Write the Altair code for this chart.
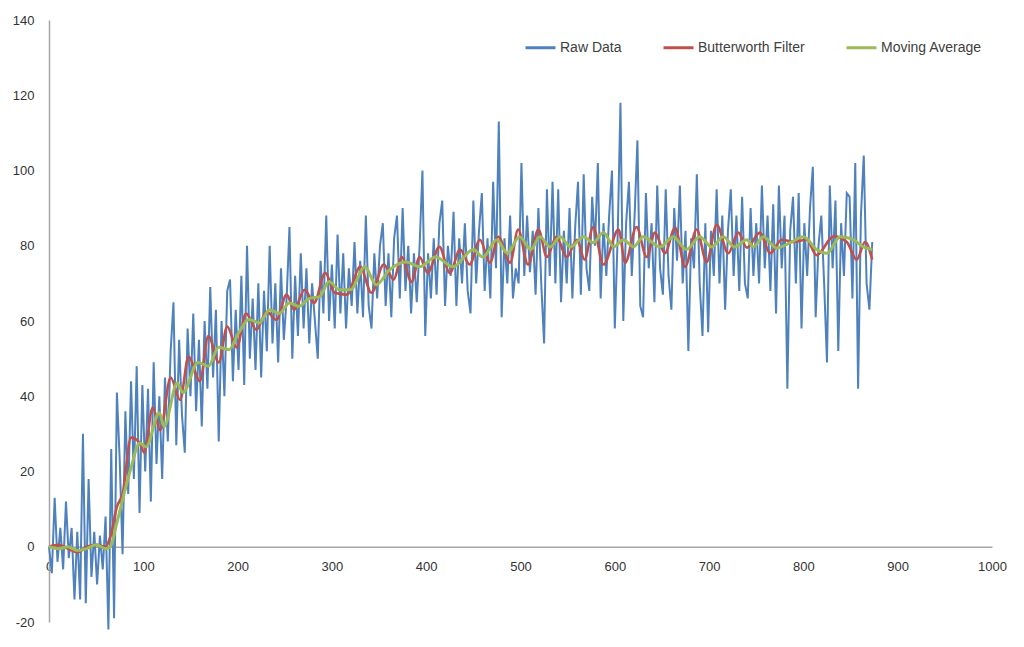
import altair as alt
import pandas as pd

# ---------------- data ----------------
raw_step = 3
raw_values = [
    0, -7, 13, -4, 5, -6, 12, -3, 5, -14,
    4, -14, 30, -15, 18, -8, 4, -10, 3, -6,
    8, -22, 26, -19, 41, 23, -2, 36, 14, 44,
    18, 48, 9, 43, 20, 42, 12, 49, 22, 40,
    18, 45, 28, 52, 65, 27, 55, 35, 25, 58,
    40, 62, 36, 55, 32, 60, 42, 69, 45, 63,
    28, 60, 40, 68, 71, 44, 63, 47, 72, 43,
    80, 50, 66, 47, 70, 45, 68, 52, 80, 54,
    70, 49, 74, 55, 66, 85, 50, 72, 56, 78,
    58, 74, 54, 70, 60, 50, 76, 62, 88, 60,
    75, 58, 83, 62, 78, 58, 74, 64, 81, 62,
    76, 61, 88, 64, 58, 78, 66, 80, 86, 64,
    78, 61, 82, 88, 66, 90, 68, 80, 62, 78,
    65, 80, 100, 56, 78, 66, 82, 67, 86, 92,
    64, 80, 72, 89, 64, 82, 70, 86, 68, 62,
    92, 70, 84, 94, 68, 82, 66, 97, 74, 113,
    61, 82, 70, 88, 66, 74, 70, 102, 72, 88,
    73, 84, 67, 90, 70, 54, 95, 72, 97, 70,
    95, 65, 84, 70, 90, 66, 85, 97, 67, 99,
    74, 68, 93, 80, 102, 66, 86, 72, 88, 100,
    58, 82, 118, 60, 86, 97, 72, 88, 108, 64,
    61, 94, 74, 86, 65, 96, 74, 67, 95, 72,
    63, 90, 76, 96, 70, 84, 52, 82, 74, 99,
    70, 56, 86, 57, 84, 72, 95, 70, 88, 63,
    84, 95, 72, 88, 68, 93, 70, 66, 90, 72,
    86, 70, 96, 74, 88, 68, 91, 62, 96, 74,
    88, 42, 84, 93, 70, 94, 58, 86, 72, 90,
    101, 61, 80, 88, 70, 49, 96, 74, 92, 52,
    86, 72, 94, 93, 66, 102, 42, 88, 104, 70,
    63, 81,
]
raw_x = [i * raw_step for i in range(len(raw_values))]

butter_x = [0, 10, 20, 30, 40, 50, 60, 65, 72, 78, 87, 96, 101, 110, 118, 129,
            139, 148, 160, 169, 180, 189, 199, 209, 220, 231, 241, 252, 260, 271,
            281, 293, 303, 316, 330, 342, 355, 365.5, 374, 384.5, 393, 401.6, 414,
            425, 436, 446, 457, 467.6, 476.5, 489, 497.5, 508, 519, 528, 538, 549,
            560, 568, 577, 588, 604, 611, 623, 633.8, 642.6, 653, 664, 674.5, 686.8,
            697.4, 708, 720.4, 731, 740, 754, 764.6, 777, 789.4, 803.5, 814, 832,
            846, 856.5, 865.4, 873]
butter_y = [0, 0.5, -0.5, -1.5, 0, 0.5, 0, 2.6, 10.6, 14, 29, 27.7, 25, 37, 31, 45,
            39, 50.5, 44, 56, 49, 58.5, 53, 62, 57.7, 62.5, 60.3, 67, 63, 68.3,
            64.8, 72.8, 67.5, 67, 74.4, 67.5, 75, 71, 77, 70.4, 77, 72.8, 79.7,
            72.8, 79, 75, 81.6, 75.5, 82.4, 75.5, 84.3, 75, 84.3, 77, 82.4, 77,
            81.6, 76.3, 85, 75, 84.3, 75.5, 85, 77, 83.5, 78, 84.8, 74.4, 84.3,
            75.7, 85.6, 78, 83.5, 79.5, 83.5, 78, 81.6, 81, 81.6, 77.5, 82.5,
            81, 76.3, 81, 76.3]

ma_x = [0, 10, 20, 30, 40, 50, 60, 65, 72, 78, 87, 96, 103, 117, 122, 136, 142,
        158, 169, 180, 191, 201, 212, 223, 234, 244, 255, 265, 276, 287, 297, 308,
        319.5, 335, 347, 361, 378.8, 393, 410, 428.5, 450, 460, 475, 486, 499, 511,
        520.6, 531.5, 542, 553, 567, 577, 588, 599, 609, 620, 630, 648, 662, 676,
        690, 702.7, 715, 727, 740, 747, 757.5, 771.7, 786, 800, 814, 825, 839, 853,
        863.6, 873]
ma_y = [0, -0.5, 0, -1, -0.5, 0.5, -0.5, 0, 6.4, 12.5, 21, 27.6, 26.6, 35.6, 32,
        43.5, 41, 49, 48, 53, 52.4, 56.8, 60.4, 59.5, 63, 62, 64.8, 63.9, 66, 66.5,
        70.5, 68.3, 68.3, 74.4, 69.6, 73.6, 75.7, 74.4, 77, 74.4, 79, 77, 81.6, 78,
        82.4, 79, 82.4, 79.7, 82.4, 79.7, 82.4, 80.8, 83.5, 79.7, 81.6, 79.7, 82.4,
        79.7, 82.4, 79, 82.4, 79.7, 82.4, 79.7, 81.6, 79.7, 82.4, 79.4, 80.8, 82.4,
        79, 78, 82.4, 81.6, 79.7, 79]

series_names = ["Raw Data", "Butterworth Filter", "Moving Average"]
series_colors = ["#4F81BD", "#C0504D", "#9BBB59"]

x_ticks = list(range(0, 1001, 100))
y_ticks = list(range(-20, 141, 20))

# ---------------- tables ----------------
raw_df = pd.DataFrame({"x": raw_x, "y": raw_values, "series": series_names[0]})
but_df = pd.DataFrame({"x": butter_x, "y": butter_y, "series": series_names[1]})
ma_df = pd.DataFrame({"x": ma_x, "y": ma_y, "series": series_names[2]})

FONT = "Liberation Sans"
LABEL_EXPR = "'' + datum.value"

x_enc = alt.X(
    "x:Q",
    scale=alt.Scale(domain=[0, 1000], nice=False, zero=False),
    axis=alt.Axis(
        values=x_ticks, title=None, grid=False, ticks=False,
        domainColor="#a6a6a6", domainWidth=1.5, offset=-75.25,
        labelPadding=14, labelFontSize=13, labelColor="#333333", labelFont=FONT,
        labelFlush=False, labelOverlap=False, labelExpr=LABEL_EXPR,
    ),
)
y_enc = alt.Y(
    "y:Q",
    scale=alt.Scale(domain=[-20, 140], nice=False, zero=False),
    axis=alt.Axis(
        values=y_ticks, title=None, grid=False, ticks=False,
        domainColor="#a6a6a6", domainWidth=1.5,
        labelPadding=15, labelFontSize=13, labelColor="#333333", labelFont=FONT,
        labelFlush=False, labelOverlap=False, labelExpr=LABEL_EXPR,
    ),
)
color_enc = alt.Color(
    "series:N",
    scale=alt.Scale(domain=series_names, range=series_colors),
    legend=alt.Legend(
        title=None, orient="none", legendX=475, legendY=11,
        direction="horizontal", symbolType="stroke", symbolSize=900,
        symbolStrokeWidth=3, labelFontSize=14, labelColor="#404040",
        labelFont=FONT, columnPadding=35, labelOffset=3,
    ),
)

raw_layer = alt.Chart(raw_df).mark_line(strokeWidth=2).encode(
    x=x_enc, y=y_enc, color=color_enc, order=alt.Order("x:Q"))
but_layer = alt.Chart(but_df).mark_line(strokeWidth=2.6, interpolate="monotone").encode(
    x=x_enc, y=y_enc, color=color_enc, order=alt.Order("x:Q"))
ma_layer = alt.Chart(ma_df).mark_line(strokeWidth=3, interpolate="monotone").encode(
    x=x_enc, y=y_enc, color=color_enc, order=alt.Order("x:Q"))

chart = (
    alt.layer(raw_layer, but_layer, ma_layer)
    .properties(
        width=943, height=602,
        autosize=alt.AutoSizeParams(type="none"),
        padding={"left": 49, "top": 20, "right": 32, "bottom": 25},
        background="white",
    )
    .configure_view(stroke=None)
)

chart.save("out.html", embed_options={"renderer": "svg", "actions": False})
